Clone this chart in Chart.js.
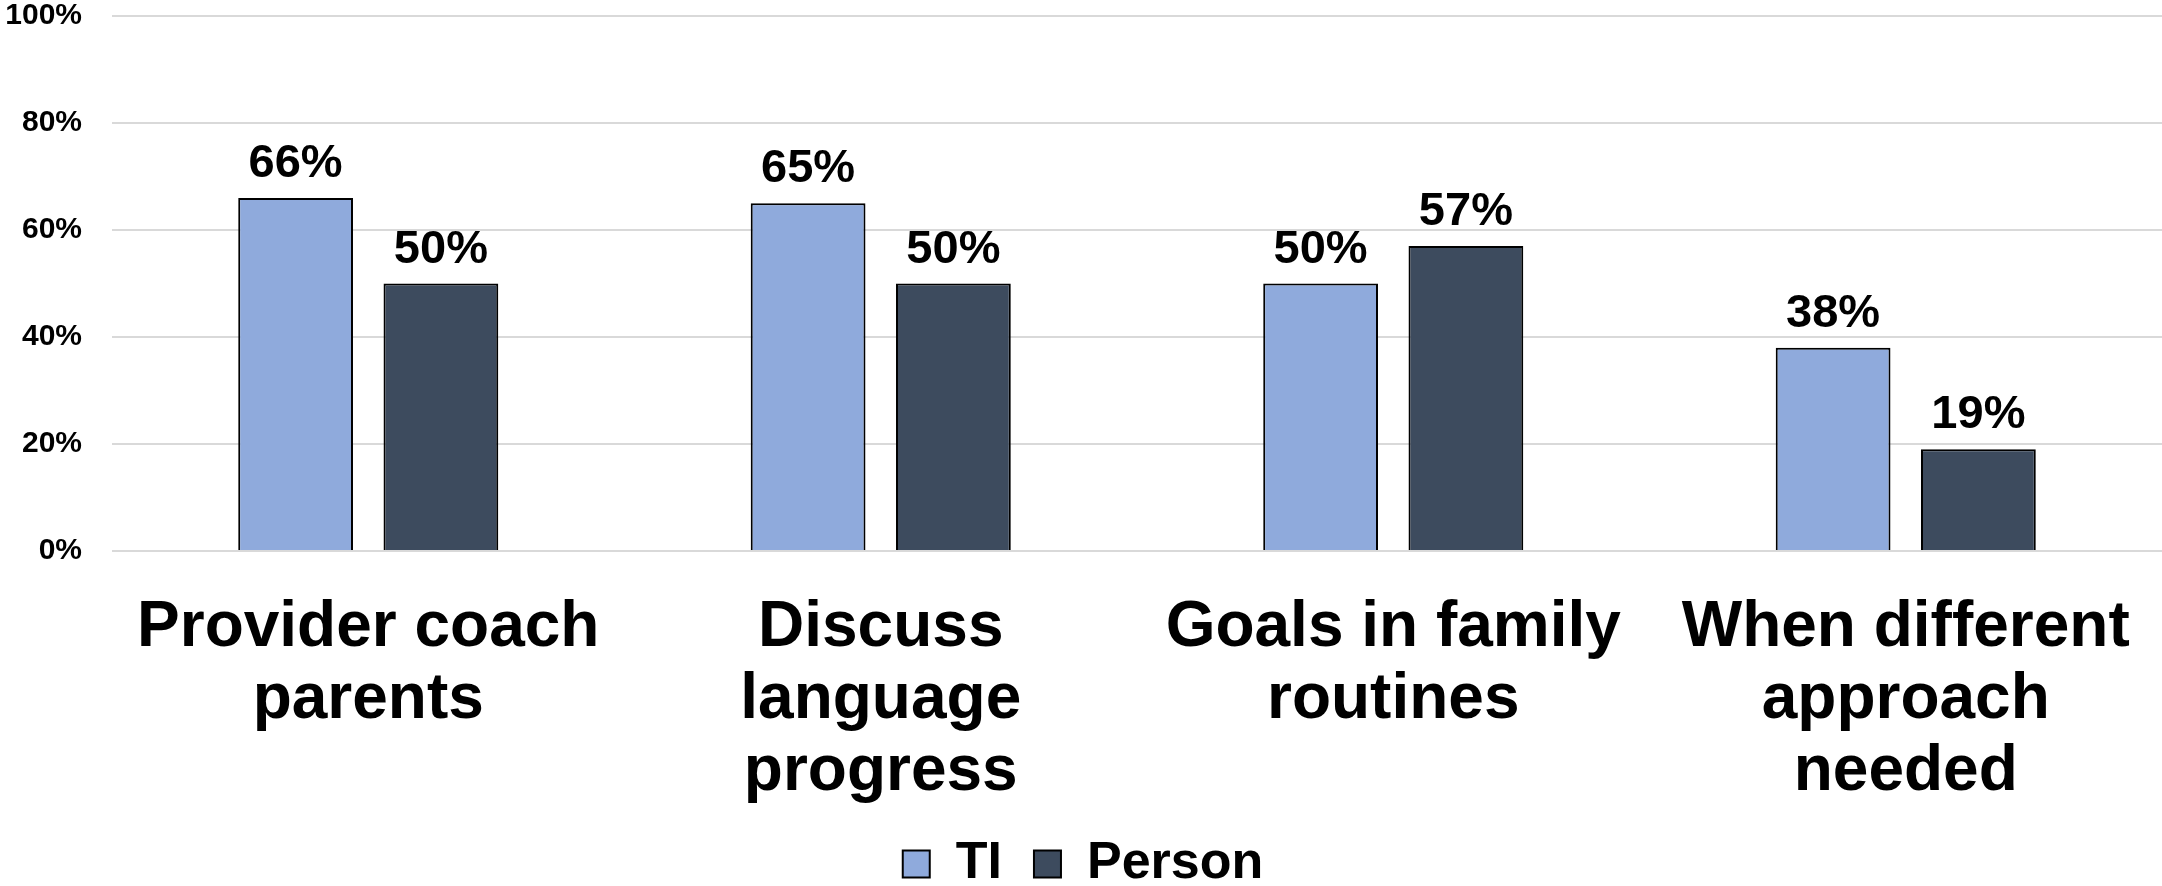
<!DOCTYPE html>
<html>
<head>
<meta charset="utf-8">
<title>Practice comparison</title>
<script src="https://cdn.jsdelivr.net/npm/chart.js@4/dist/chart.umd.min.js"></script>
<style>
  html, body { margin: 0; padding: 0; background: #fff; }
  .chart-wrap { width: 2162px; height: 886px; position: relative; }
</style>
</head>
<body>
<div class="chart-wrap">
  <canvas id="practiceChart"></canvas>
</div>
<script>
// categories (multi-line labels) and the two series, in percent
const categories = [
  ['Provider coach', 'parents'],
  ['Discuss', 'language', 'progress'],
  ['Goals in family', 'routines'],
  ['When different', 'approach', 'needed']
];
const tiValues = [66, 65, 50, 38];
const personValues = [50, 50, 57, 19];
const yTicks = [0, 20, 40, 60, 80, 100];

const FONT = '"Liberation Sans", Arial, Helvetica, sans-serif';

// writes "NN%" above every bar
const valueLabels = {
  id: 'valueLabels',
  afterDatasetsDraw(chart) {
    const ctx = chart.ctx;
    ctx.save();
    ctx.font = 'bold 47px ' + FONT;
    ctx.fillStyle = '#000';
    ctx.textAlign = 'center';
    ctx.textBaseline = 'alphabetic';
    chart.data.datasets.forEach((ds, i) => {
      chart.getDatasetMeta(i).data.forEach((bar, j) => {
        ctx.fillText(ds.data[j] + '%', bar.x, bar.y - 21);
      });
    });
    ctx.restore();
  }
};

document.addEventListener('DOMContentLoaded', () => {
  Chart.defaults.font.family = FONT;
  Chart.defaults.color = '#000';

  const ctx = document.getElementById('practiceChart').getContext('2d');
  new Chart(ctx, {
    type: 'bar',
    data: {
      labels: categories,
      datasets: [
        {
          label: 'TI',
          data: tiValues,
          backgroundColor: '#8FAADC',
          borderColor: '#000',
          borderWidth: 2
        },
        {
          label: 'Person',
          data: personValues,
          backgroundColor: '#3D4B5E',
          borderColor: '#000',
          borderWidth: 2
        }
      ]
    },
    options: {
      responsive: true,
      maintainAspectRatio: false,
      animation: false,
      categoryPercentage: 0.567,
      barPercentage: 0.79,
      layout: { padding: { left: 4, right: 0, top: 16, bottom: -14 } },
      scales: {
        x: {
          grid: { display: false },
          border: { display: false },
          ticks: {
            autoSkip: false,
            maxRotation: 0,
            minRotation: 0,
            padding: 33,
            font: { size: 64, weight: 'bold', lineHeight: 1.125 }
          },
          afterFit: (axis) => {
            axis.paddingLeft = 0;
            axis.paddingRight = 0;
            axis.height -= 35;
          }
        },
        y: {
          min: 0,
          max: 100,
          border: { display: false },
          grid: { color: '#D9D9D9', lineWidth: 2, drawTicks: false },
          afterBuildTicks: (axis) => {
            axis.ticks = yTicks.map(v => ({ value: v }));
          },
          afterFit: (axis) => {
            axis.width = 108;
            axis.paddingTop = 0;
            axis.paddingBottom = 0;
          },
          ticks: {
            padding: 30,
            font: { size: 30, weight: 'bold', lineHeight: 1 },
            callback: (v) => v + '%'
          }
        }
      },
      plugins: {
        tooltip: { enabled: false },
        legend: {
          position: 'bottom',
          labels: {
            boxWidth: 27,
            boxHeight: 27,
            padding: 32,
            font: { size: 52, weight: 'bold', lineHeight: 1 }
          }
        }
      }
    },
    plugins: [valueLabels]
  });
});
</script>
</body>
</html>
